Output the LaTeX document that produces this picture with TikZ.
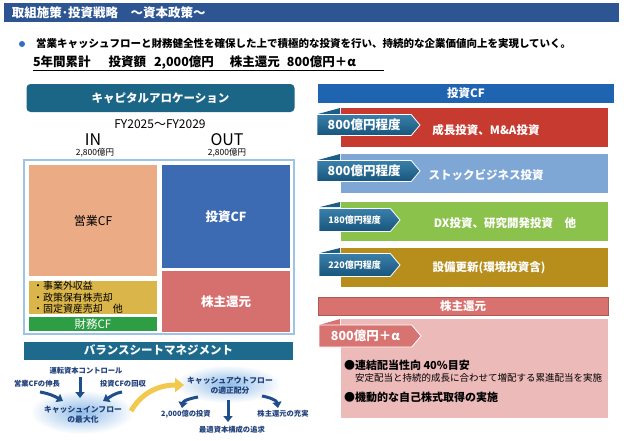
\documentclass[tikz,border=0pt]{standalone}
\usepackage{fontspec}
\setmainfont{Noto Sans CJK JP}
\usetikzlibrary{shapes.symbols,shapes.geometric,arrows.meta}
\definecolor{titleblue}{HTML}{2C5592}
\definecolor{dotblue}{HTML}{2F6FC0}
\definecolor{cateal}{HTML}{1B6586}
\definecolor{bsteal}{HTML}{1D6A8C}
\definecolor{boxline}{HTML}{9DC3E6}
\definecolor{salmon}{HTML}{EBAB85}
\definecolor{invblue}{HTML}{3C6AB3}
\definecolor{shpink}{HTML}{D6706E}
\definecolor{goldbox}{HTML}{D9B54A}
\definecolor{greenbox}{HTML}{2E9E44}
\definecolor{hdrblue}{HTML}{1F64B1}
\definecolor{barred}{HTML}{C63A2F}
\definecolor{barlblue}{HTML}{7EA7D6}
\definecolor{bargreen}{HTML}{8BC24C}
\definecolor{bargold}{HTML}{B78E1C}
\definecolor{pinkhdr}{HTML}{D9716E}
\definecolor{pinkpanel}{HTML}{EDBABA}
\definecolor{tabtop}{HTML}{3A80AA}
\definecolor{tabbot}{HTML}{17557C}
\definecolor{tabdark}{HTML}{1B5E88}
\definecolor{pinktab}{HTML}{D77370}
\definecolor{navy}{HTML}{1F4E8C}
\definecolor{navytext}{HTML}{1F3F7A}
\definecolor{glow}{HTML}{8FBBE6}
\definecolor{yarrow}{HTML}{F2C94C}
\newcommand{\fsz}[1]{\fontsize{#1}{#1}\selectfont}
\tikzset{
  bar/.style={anchor=north west, inner sep=0pt, minimum height=39pt, minimum width=267pt},
  bartext/.style={text=white, font=\bfseries\fsz{11.5}},
  tabsig/.style={signal, signal to=east, signal pointer angle=100, draw=white, line width=0.8pt,
    top color=tabtop, bottom color=tabbot, text=white, font=\bfseries\fsz{12.5},
    minimum height=21pt, minimum width=103pt, anchor=west},
  smalltab/.style={tabsig, font=\bfseries\fsz{9}, minimum width=81pt, minimum height=23pt},
  hdr/.style={text=white, font=\bfseries\fsz{11.5}, inner sep=0pt},
  navyarr/.style={draw=navy, line width=3pt, -{Triangle[length=6pt,width=9pt]}},
  cyclab/.style={text=navytext, font=\bfseries\fsz{7.3}},
  glowell/.style={ellipse, inner color=glow, outer color=white, inner sep=0pt},
}
\begin{document}
\begin{tikzpicture}[x=1pt,y=-1pt, every node/.style={inner sep=0pt, outer sep=0pt}]
\useasboundingbox[fill=white] (0,0) rectangle (624,440);

% title
\fill[titleblue] (4,3) rectangle (619,22);
\node[anchor=west, text=white, font=\bfseries\fsz{12.5}] (title) at (12,12.5) {取組施策･投資戦略　～資本政策～};

% lead
\fill[dotblue] (22,44) circle (3);
\node[anchor=west, font=\bfseries\fsz{10.5}] (lead) at (36,44) {営業キャッシュフローと財務健全性を確保した上で積極的な投資を行い、持続的な企業価値向上を実現していく。};
\node[anchor=west, font=\bfseries\fsz{12.5}] (sum) at (33,63) {5年間累計\hspace{18pt}投資額\hspace{8pt}2,000億円\hspace{16pt}株主還元\hspace{7pt}800億円＋α};
\draw[line width=0.8pt] (33,70.5) -- (384,70.5);

% capital allocation
\node[fill=cateal, rounded corners=4pt, minimum width=268pt, minimum height=28pt, text=white, font=\bfseries\fsz{11.5}] (ca) at (160.5,98) {キャピタルアロケーション};
\node[font=\fsz{12}] (fy) at (160,124) {FY2025～FY2029};
\node[font=\fsz{16}] (in) at (93,140) {IN};
\node[font=\fsz{8.5}] (inv) at (95,153) {2,800億円};
\node[font=\fsz{16}] (out) at (227,140) {OUT};
\node[font=\fsz{8.5}] (outv) at (227,153) {2,800億円};
\draw[boxline, line width=1.2pt] (24,160) rectangle (294,334);
\node[fill=salmon, anchor=north west, minimum width=128pt, minimum height=111pt] (opcf) at (29,165) {};
\node[font=\fsz{12}] (opcft) at (opcf.center) {営業CF};
\node[fill=invblue, anchor=north west, minimum width=128pt, minimum height=103pt] (invcf) at (162,165) {};
\node[text=white, font=\bfseries\fsz{12.5}] (invcft) at (invcf.center) {投資CF};
\node[fill=shpink, anchor=north west, minimum width=128pt, minimum height=61pt] (shr) at (162,271) {};
\node[text=white, font=\bfseries\fsz{12.5}] (shrt) at (shr.center) {株主還元};
\node[fill=goldbox, anchor=north west, minimum width=128pt, minimum height=33pt] (oth) at (29,281) {};
\node[anchor=west, font=\fsz{10}] (oth1) at (33,286) {・事業外収益};
\node[anchor=west, font=\fsz{10}] (oth2) at (33,297.5) {・政策保有株売却};
\node[anchor=west, font=\fsz{10}] (oth3) at (33,309) {・固定資産売却　他};
\node[fill=greenbox, anchor=north west, minimum width=128pt, minimum height=14pt] (fin) at (29,317) {};
\node[text=white, font=\fsz{11.5}] (fint) at (fin.center) {財務CF};

% balance sheet management
\node[fill=bsteal, minimum width=269pt, minimum height=18pt, text=white, font=\bfseries\fsz{11.5}] (bs) at (158.5,350.5) {バランスシートマネジメント};

\node[glowell, minimum width=104pt, minimum height=44pt] (einL) at (82,412) {};
\node[cyclab, align=center, font=\bfseries\fsz{7.8}] (einLt) at (83,415) {キャッシュインフロー\\[2pt]の最大化};
\node[glowell, minimum width=106pt, minimum height=38pt] (eout) at (228,384) {};
\node[cyclab, align=center, font=\bfseries\fsz{7.8}] (eoutt) at (230,386) {キャッシュアウトフロー\\[2pt]の適正配分};

\node[cyclab] (l1) at (86,371) {運転資本コントロール};
\node[cyclab] (l2) at (37,384) {営業CFの伸長};
\node[cyclab] (l3) at (123,384) {投資CFの回収};
\node[cyclab] (r1) at (186,414) {2,000億の投資};
\node[cyclab] (r2) at (232,430) {最適資本構成の追求};
\node[cyclab] (r3) at (283,414) {株主還元の充実};

\coordinate (a1s) at (40,392);
\coordinate (a1e) at (63,401);
\coordinate (a2s) at (80,377);
\coordinate (a2e) at (80,398);
\coordinate (a3s) at (122,392);
\coordinate (a3e) at (103,401);
\draw[navyarr] (a1s) to[out=-10,in=150] (a1e);
\draw[navyarr] (a2s) -- (a2e);
\draw[navyarr] (a3s) to[out=190,in=30] (a3e);

\coordinate (ys) at (131,411);
\coordinate (ye) at (184,385);
\draw[yarrow, line width=5pt, -{Triangle[length=9pt,width=14pt]}] (ys) to[out=60,in=180] (ye);

\coordinate (b1s) at (198,397);
\coordinate (b1e) at (182,408);
\coordinate (b2s) at (228,400);
\coordinate (b2e) at (228,422);
\coordinate (b3s) at (262,396);
\coordinate (b3e) at (278,408);
\draw[navyarr] (b1s) to[out=190,in=80] (b1e);
\draw[navyarr] (b2s) -- (b2e);
\draw[navyarr] (b3s) to[out=-10,in=100] (b3e);

% right: investment CF
\node[fill=hdrblue, anchor=north west, minimum width=296pt, minimum height=19pt] (ihdr) at (318,84) {};
\node[hdr] (ihdrt) at (ihdr.center) {投資CF};

\node[bar, fill=barred] (bar1) at (341,108) {};
\node[bartext] (bar1t) at (486,130) {成長投資、M\&A投資};
\fill[tabdark] (318,114) -- (340,108) -- (340,114) -- cycle;
\node[tabsig] (tab1) at (317,125) {800億円程度};

\node[bar, fill=barlblue] (bar2) at (341,154) {};
\node[bartext] (bar2t) at (486,175) {ストックビジネス投資};
\fill[tabdark] (318,160) -- (340,154) -- (340,160) -- cycle;
\node[tabsig] (tab2) at (317,171) {800億円程度};

\node[bar, fill=bargreen] (bar3) at (341,202) {};
\node[bartext] (bar3t) at (505,223) {DX投資、研究開発投資　他};
\fill[tabdark] (320,207) -- (340,202) -- (340,207) -- cycle;
\node[smalltab] (tab3) at (319,220) {180億円程度};

\node[bar, fill=bargold] (bar4) at (341,248) {};
\node[bartext] (bar4t) at (489,268) {設備更新(環境投資含)};
\fill[tabdark] (320,253) -- (340,248) -- (340,253) -- cycle;
\node[smalltab] (tab4) at (319,265) {220億円程度};

% right: shareholder return
\node[fill=pinkhdr, draw=shpink!80!black, anchor=north west, minimum width=290pt, minimum height=18pt] (phdr) at (318,297) {};
\node[hdr] (phdrt) at (phdr.center) {株主還元};
\node[fill=pinkpanel, anchor=north west, minimum width=267pt, minimum height=99pt] (ppan) at (341,319) {};
\fill[pinktab] (319,325) -- (340,319) -- (340,325) -- cycle;
\node[tabsig, top color=pinktab, bottom color=pinktab, minimum width=102pt, minimum height=22pt, font=\bfseries\fsz{12.5}] (ptab) at (319,336) {800億円＋α};
\node[anchor=west, font=\bfseries\fsz{11}] (p1) at (344,365) {●連結配当性向 40\%目安};
\node[anchor=west, font=\fsz{9.5}] (p2) at (355,378) {安定配当と持続的成長に合わせて増配する累進配当を実施};
\node[anchor=west, font=\bfseries\fsz{11}] (p3) at (344,397) {●機動的な自己株式取得の実施};
\end{tikzpicture}
\end{document}
